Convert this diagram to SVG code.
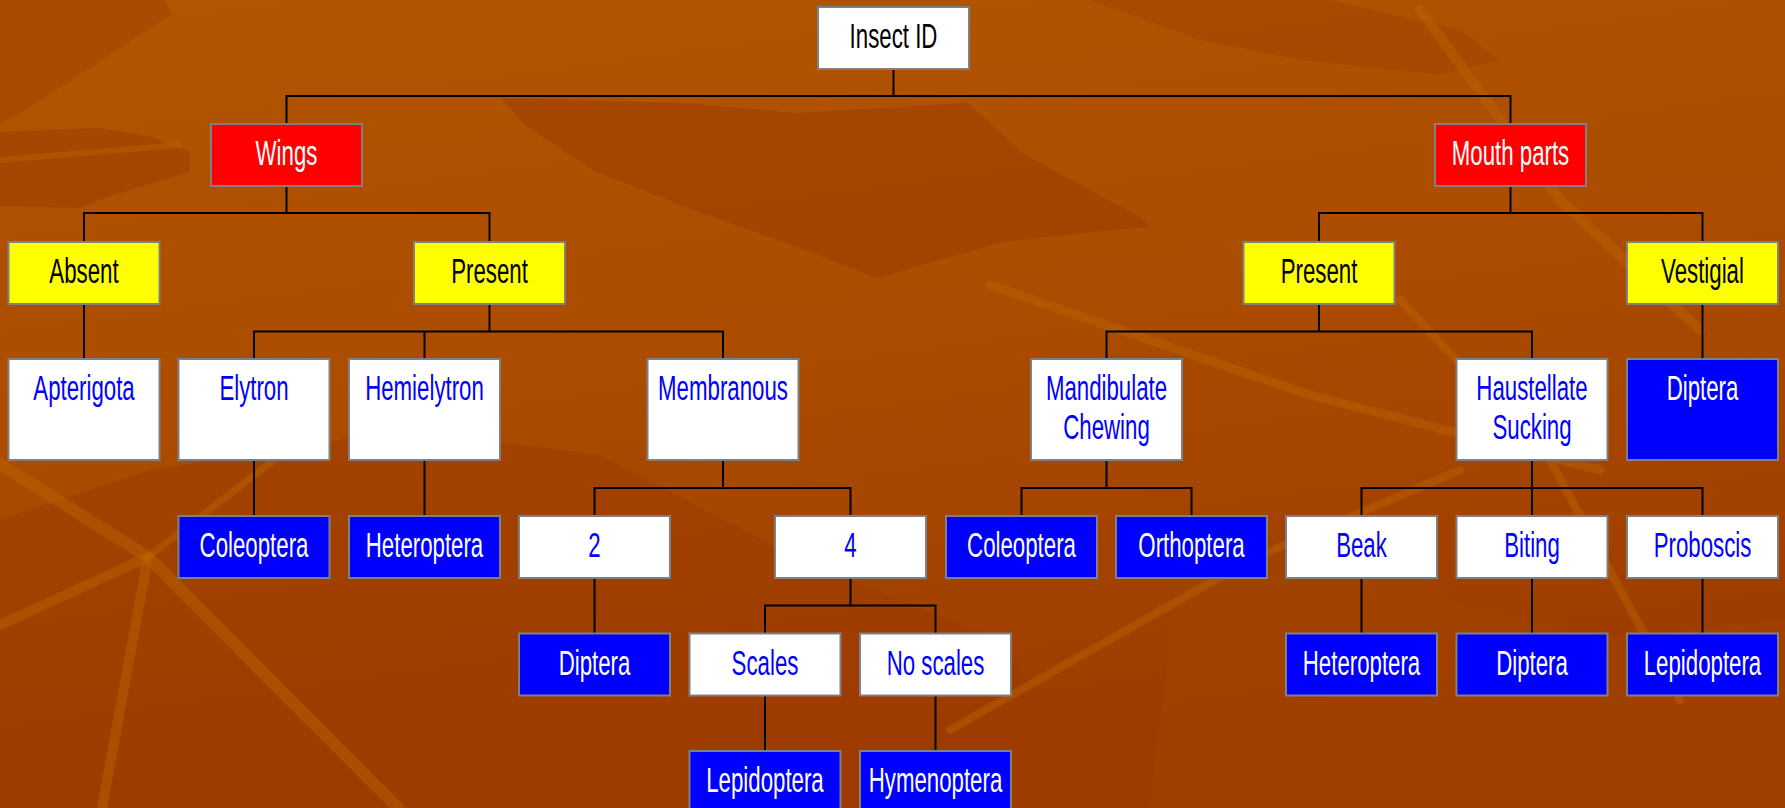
<svg xmlns="http://www.w3.org/2000/svg" width="1785" height="808" viewBox="0 0 1785 808">
<defs>
<linearGradient id="bg" x1="0" y1="0" x2="0.3" y2="1">
<stop offset="0" stop-color="#B35600"/>
<stop offset="0.55" stop-color="#AA4B00"/>
<stop offset="1" stop-color="#9E3C00"/>
</linearGradient>
<style>
.n rect{stroke:#808080;stroke-width:2}
.red{fill:#FF0000}.yel{fill:#FFFF00}.wht{fill:#FFFFFF}.blu{fill:#0000FF}
text{font-family:"Liberation Sans",Arial,sans-serif;font-size:34.5px;text-anchor:middle}
.tw{fill:#FFFFFF}.tk{fill:#000000}.tb{fill:#0000FF}
#connectors path{fill:none;stroke:#000000;stroke-width:2}
.dk{fill:#9C3A00;opacity:0.5}
.dk2{fill:#A24400;opacity:0.55}
.lt{fill:none;stroke:#BC6400;stroke-linecap:round;stroke-linejoin:round;opacity:0.45}
</style>
</defs>
<g id="background">
<rect x="0" y="0" width="1785" height="808" fill="url(#bg)"/>
<polygon class="dk2" points="0,0 165,0 172,15 140,35 80,75 25,110 0,125"/>
<polygon class="dk" points="0,132 100,128 155,138 190,152 190,172 110,196 80,208 0,206"/>
<polygon class="dk" points="501,98 683,103 797,113 968,103 1025,155 1138,216 1150,227 1093,232 1002,242 877,278 797,247 683,206 592,170 524,124"/>
<polygon class="dk" points="0,520 150,470 400,430 600,455 800,560 1000,640 1120,808 0,808"/>
<polygon class="dk2" points="1180,540 1300,520 1450,600 1600,640 1785,620 1785,808 1150,808"/>
<polygon class="dk2" points="1090,0 1330,0 1460,30 1500,60 1440,75 1300,60 1200,40"/>
<path class="lt" stroke-width="12" d="M0,464 L148,557 L398,808"/>
<path class="lt" stroke-width="10" d="M148,557 L0,625"/>
<path class="lt" stroke-width="10" d="M148,557 L102,808"/>
<path class="lt" stroke-width="7" d="M148,557 L300,440"/>
<path class="lt" stroke-width="9" d="M990,285 L1310,395 L1600,470"/>
<path class="lt" stroke-width="8" d="M950,730 L1250,560 L1460,470"/>
<path class="lt" stroke-width="10" d="M1420,10 L1560,200 L1700,330"/>
<path class="lt" stroke-width="8" d="M1400,300 L1550,460 L1680,700"/>
<path class="lt" stroke-width="6" d="M0,160 L120,150 L180,145"/>
</g>
<g id="connectors">
<path d="M893.5,69 V96 M286.5,124 V96 H1510.5 V124"/>
<path d="M286.5,186 V213 M84,242 V213 H489.5 V242"/>
<path d="M1510.5,186 V213 M1319,242 V213 H1702.5 V242"/>
<path d="M84,304 V359"/>
<path d="M489.5,304 V331.5 M254,359 V331.5 H723 V359 M424.5,331.5 V359"/>
<path d="M1319,304 V331.5 M1106.5,359 V331.5 H1532 V359"/>
<path d="M1702.5,304 V359"/>
<path d="M254,460 V516 M424.5,460 V516"/>
<path d="M723,460 V488 M594.5,516 V488 H850.5 V516"/>
<path d="M1106.5,460 V488 M1021.5,516 V488 H1191.5 V516"/>
<path d="M1532,460 V516 M1361.5,516 V488 H1702.5 V516"/>
<path d="M594.5,578 V633.5"/>
<path d="M850.5,578 V605.5 M765,633.5 V605.5 H935.5 V633.5"/>
<path d="M765,695.5 V751 M935.5,695.5 V751"/>
<path d="M1361.5,578 V633.5 M1532,578 V633.5 M1702.5,578 V633.5"/>
</g>
<g id="insect-id" class="n"><rect class="wht" x="818" y="7" width="151" height="62"/><text class="tk" transform="translate(893.5 48) scale(0.645 1)">Insect ID</text></g>
<g id="wings" class="n"><rect class="red" x="211" y="124" width="151" height="62"/><text class="tw" transform="translate(286.5 165) scale(0.645 1)">Wings</text></g>
<g id="mouth-parts" class="n"><rect class="red" x="1435" y="124" width="151" height="62"/><text class="tw" transform="translate(1510.5 165) scale(0.645 1)">Mouth parts</text></g>
<g id="absent" class="n"><rect class="yel" x="8.5" y="242" width="151" height="62"/><text class="tk" transform="translate(84 283) scale(0.645 1)">Absent</text></g>
<g id="present-wings" class="n"><rect class="yel" x="414" y="242" width="151" height="62"/><text class="tk" transform="translate(489.5 283) scale(0.645 1)">Present</text></g>
<g id="present-mouth" class="n"><rect class="yel" x="1243.5" y="242" width="151" height="62"/><text class="tk" transform="translate(1319 283) scale(0.645 1)">Present</text></g>
<g id="vestigial" class="n"><rect class="yel" x="1627" y="242" width="151" height="62"/><text class="tk" transform="translate(1702.5 283) scale(0.645 1)">Vestigial</text></g>
<g id="apterigota" class="n"><rect class="wht" x="8.5" y="359" width="151" height="101"/><text class="tb" transform="translate(84 400) scale(0.645 1)">Apterigota</text></g>
<g id="elytron" class="n"><rect class="wht" x="178.5" y="359" width="151" height="101"/><text class="tb" transform="translate(254 400) scale(0.645 1)">Elytron</text></g>
<g id="hemielytron" class="n"><rect class="wht" x="349" y="359" width="151" height="101"/><text class="tb" transform="translate(424.5 400) scale(0.645 1)">Hemielytron</text></g>
<g id="membranous" class="n"><rect class="wht" x="647.5" y="359" width="151" height="101"/><text class="tb" transform="translate(723 400) scale(0.645 1)">Membranous</text></g>
<g id="mandibulate" class="n"><rect class="wht" x="1031" y="359" width="151" height="101"/><text class="tb" transform="translate(1106.5 400) scale(0.645 1)">Mandibulate</text><text class="tb" transform="translate(1106.5 438.5) scale(0.645 1)">Chewing</text></g>
<g id="haustellate" class="n"><rect class="wht" x="1456.5" y="359" width="151" height="101"/><text class="tb" transform="translate(1532 400) scale(0.645 1)">Haustellate</text><text class="tb" transform="translate(1532 438.5) scale(0.645 1)">Sucking</text></g>
<g id="diptera-vestigial" class="n"><rect class="blu" x="1627" y="359" width="151" height="101"/><text class="tw" transform="translate(1702.5 400) scale(0.645 1)">Diptera</text></g>
<g id="coleoptera-elytron" class="n"><rect class="blu" x="178.5" y="516" width="151" height="62"/><text class="tw" transform="translate(254 557) scale(0.645 1)">Coleoptera</text></g>
<g id="heteroptera-hemielytron" class="n"><rect class="blu" x="349" y="516" width="151" height="62"/><text class="tw" transform="translate(424.5 557) scale(0.645 1)">Heteroptera</text></g>
<g id="two" class="n"><rect class="wht" x="519" y="516" width="151" height="62"/><text class="tb" transform="translate(594.5 557) scale(0.645 1)">2</text></g>
<g id="four" class="n"><rect class="wht" x="775" y="516" width="151" height="62"/><text class="tb" transform="translate(850.5 557) scale(0.645 1)">4</text></g>
<g id="coleoptera-mandibulate" class="n"><rect class="blu" x="946" y="516" width="151" height="62"/><text class="tw" transform="translate(1021.5 557) scale(0.645 1)">Coleoptera</text></g>
<g id="orthoptera" class="n"><rect class="blu" x="1116" y="516" width="151" height="62"/><text class="tw" transform="translate(1191.5 557) scale(0.645 1)">Orthoptera</text></g>
<g id="beak" class="n"><rect class="wht" x="1286" y="516" width="151" height="62"/><text class="tb" transform="translate(1361.5 557) scale(0.645 1)">Beak</text></g>
<g id="biting" class="n"><rect class="wht" x="1456.5" y="516" width="151" height="62"/><text class="tb" transform="translate(1532 557) scale(0.645 1)">Biting</text></g>
<g id="proboscis" class="n"><rect class="wht" x="1627" y="516" width="151" height="62"/><text class="tb" transform="translate(1702.5 557) scale(0.645 1)">Proboscis</text></g>
<g id="diptera-two" class="n"><rect class="blu" x="519" y="633.5" width="151" height="62"/><text class="tw" transform="translate(594.5 674.5) scale(0.645 1)">Diptera</text></g>
<g id="scales" class="n"><rect class="wht" x="689.5" y="633.5" width="151" height="62"/><text class="tb" transform="translate(765 674.5) scale(0.645 1)">Scales</text></g>
<g id="no-scales" class="n"><rect class="wht" x="860" y="633.5" width="151" height="62"/><text class="tb" transform="translate(935.5 674.5) scale(0.645 1)">No scales</text></g>
<g id="heteroptera-beak" class="n"><rect class="blu" x="1286" y="633.5" width="151" height="62"/><text class="tw" transform="translate(1361.5 674.5) scale(0.645 1)">Heteroptera</text></g>
<g id="diptera-biting" class="n"><rect class="blu" x="1456.5" y="633.5" width="151" height="62"/><text class="tw" transform="translate(1532 674.5) scale(0.645 1)">Diptera</text></g>
<g id="lepidoptera-proboscis" class="n"><rect class="blu" x="1627" y="633.5" width="151" height="62"/><text class="tw" transform="translate(1702.5 674.5) scale(0.645 1)">Lepidoptera</text></g>
<g id="lepidoptera-scales" class="n"><rect class="blu" x="689.5" y="751" width="151" height="62"/><text class="tw" transform="translate(765 792) scale(0.645 1)">Lepidoptera</text></g>
<g id="hymenoptera" class="n"><rect class="blu" x="860" y="751" width="151" height="62"/><text class="tw" transform="translate(935.5 792) scale(0.645 1)">Hymenoptera</text></g>
</svg>
